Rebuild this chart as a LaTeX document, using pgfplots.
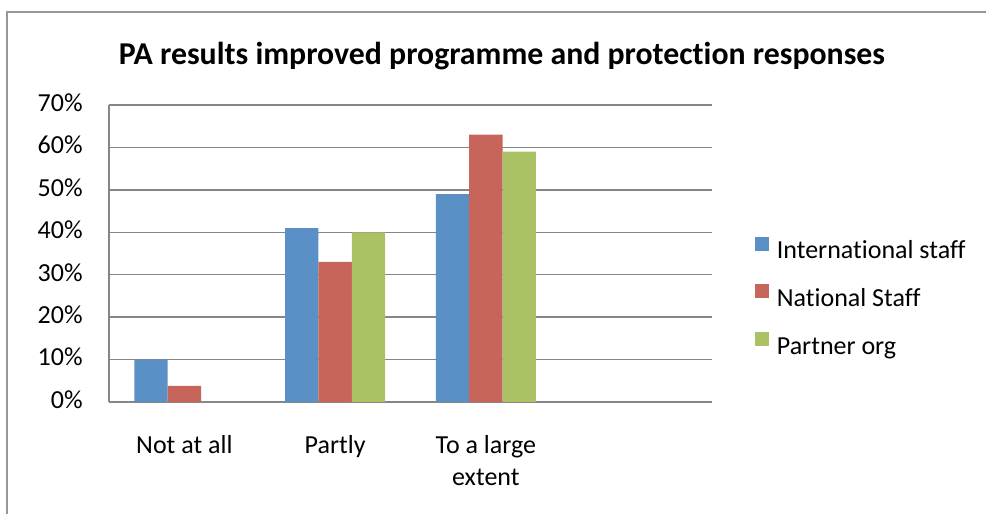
\documentclass[border=0pt]{standalone}
\usepackage{fontspec}
\setmainfont{Carlito}[Renderer=OpenType, Ligatures={NoCommon,NoRequired,NoContextual,NoRare}]
\usepackage{pgfplots}
\pgfplotsset{compat=1.18}
\definecolor{cblue}{RGB}{90,144,197}
\definecolor{cred}{RGB}{200,101,91}
\definecolor{cgreen}{RGB}{170,194,101}
\definecolor{cgrid}{RGB}{134,134,134}
\definecolor{cframe}{RGB}{150,150,150}
\begin{document}
\begin{tikzpicture}
\path[use as bounding box] (0,0) rectangle (493pt,257pt);
\draw[cframe, line width=1.2pt] (3.5pt,-2pt) -- (3.5pt,251pt) -- (496pt,251pt);
\node[font=\fontsize{15.9pt}{18pt}\selectfont\bfseries, anchor=base, inner sep=0pt] at (251pt,224.5pt) {PA results improved programme and protection responses};
\begin{axis}[
  at={(54.5pt,56pt)}, anchor=south west,
  scale only axis, width=301.5pt, height=148.5pt,
  ybar=0pt, bar width=0.2211,
  xmin=-0.5, xmax=3.5, ymin=0, ymax=70,
  xtick={0,1,2,3},
  xticklabels={Not at all,Partly,{To a large\\extent},{}},
  ytick={0,10,...,70},
  yticklabels={0\%,10\%,20\%,30\%,40\%,50\%,60\%,70\%},
  major tick length=0pt,
  axis lines*=left,
  axis line style={cgrid, line width=0.7pt},
  ymajorgrids, grid style={cgrid, line width=0.7pt},
  typeset ticklabels with strut,
  tick label style={font=\fontsize{13pt}{16pt}\selectfont},
  xticklabel style={align=center, anchor=north, inner sep=0pt, yshift=-14.3pt},
  yticklabel style={anchor=east, inner sep=0pt, xshift=-13pt},
  legend style={at={(1.0713,0.3485)}, anchor=west, draw=none, fill=none,
    font=\fontsize{13pt}{16pt}\selectfont, row sep=9.8pt, column sep=3.75pt,
    inner sep=0pt, nodes={inner sep=0pt, text height=9pt, text depth=3pt}},
  legend cell align=left,
  legend image code/.code={\fill[#1] (0pt,1pt) rectangle (7pt,8pt);},
]
\addplot[fill=cblue, draw=none] coordinates {(0,10) (1,41) (2,49)};
\addplot[fill=cred, draw=none] coordinates {(0,3.8) (1,33) (2,63)};
\addplot[fill=cgreen, draw=none] coordinates {(0,0) (1,40) (2,59)};
\legend{International staff, National Staff, Partner org}
\end{axis}
\end{tikzpicture}
\end{document}
